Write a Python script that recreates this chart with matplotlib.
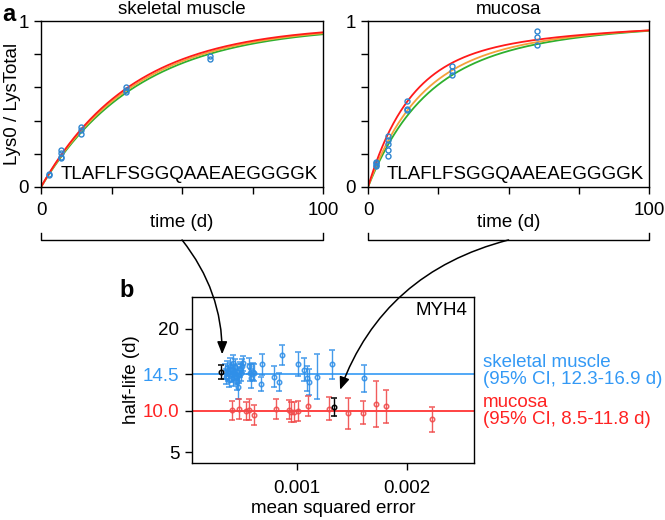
import numpy as np
import matplotlib
matplotlib.use('Agg')
import matplotlib.pyplot as plt
from matplotlib.patches import ConnectionPatch

plt.rcParams['font.family'] = ['Liberation Sans', 'DejaVu Sans']
plt.rcParams['font.size'] = 13.5

# ---- panel a: labelled fraction over time ----
peptide = 'TLAFLFSGGQAAEAEGGGGK'
tissues = ['skeletal muscle', 'mucosa']

muscle_t = [3, 3, 7, 7, 7, 7, 14, 14, 14, 30, 30, 30, 60, 60]
muscle_frac = [0.07, 0.08, 0.222, 0.202, 0.176, 0.182, 0.36, 0.342, 0.322,
               0.602, 0.586, 0.57, 0.792, 0.774]

mucosa_t = [3, 3, 3, 3, 7, 7, 7, 7, 7, 14, 14, 14, 30, 30, 30, 60, 60, 60]
mucosa_frac = [0.152, 0.142, 0.126, 0.135, 0.306, 0.286, 0.262, 0.222, 0.186,
               0.52, 0.47, 0.466, 0.726, 0.696, 0.672, 0.942, 0.906, 0.854]

# fitted curves: fraction of fast pool, fast rate, slow rate (per day)
fit_colors = ['#2eb02e', '#f5a03a', '#ff1a1a']
muscle_fast = [0.974, 0.975, 0.976]
muscle_k1 = [0.029, 0.030, 0.031]
muscle_k2 = [0.0, 0.0, 0.0]
mucosa_fast = [0.66, 0.70, 0.75]
mucosa_k1 = [0.055, 0.060, 0.070]
mucosa_k2 = [0.018, 0.017, 0.015]

# ---- panel b: half-life vs mean squared error ----
muscle_mse = [0.000352, 0.000361, 0.000367, 0.000382, 0.000391, 0.000397, 0.000406,
              0.000412, 0.000421, 0.000427, 0.000436, 0.000442, 0.000451, 0.000458,
              0.000463, 0.000472, 0.000481, 0.000487, 0.000496, 0.000508, 0.000512,
              0.000571, 0.000578, 0.000584, 0.000608, 0.000617, 0.000674, 0.000686,
              0.000792, 0.000837, 0.000870, 0.001015, 0.001069, 0.001096, 0.001111,
              0.001181, 0.001319, 0.001608]
muscle_hl = [14.78, 14.18, 15.19, 14.58, 13.77, 15.47, 14.99, 14.38, 13.97, 15.8,
             14.66, 15.31, 14.18, 13.57, 14.78, 12.96, 14.38, 15.07, 14.66, 15.47,
             15.8, 15.47, 14.66, 13.97, 14.78, 14.66, 13.28, 15.68, 14.18, 13.49,
             16.81, 15.68, 14.99, 13.97, 13.57, 14.18, 15.68, 13.97]
muscle_err = [0.9, 0.9, 0.9, 0.9, 0.8, 1.0, 0.9, 0.9, 0.9, 1.0, 0.9, 1.0, 0.9, 1.0,
              0.9, 1.5, 1.0, 0.9, 1.0, 0.9, 0.9, 1.0, 1.0, 1.2, 1.0, 1.0, 0.9, 1.3,
              1.25, 1.1, 1.2, 1.45, 1.4, 1.5, 1.6, 2.7, 1.8, 1.6]

mucosa_mse = [0.000418, 0.000481, 0.000539, 0.000566, 0.000611, 0.00081, 0.00093,
              0.000948, 0.000976, 0.00101, 0.0011, 0.00129, 0.00146, 0.0016,
              0.00172, 0.00181, 0.002226]
mucosa_hl = [10.08, 10.28, 10.0, 10.15, 9.5, 10.2, 10.15, 9.9, 9.9, 10.0, 10.65,
             10.3, 9.7, 9.8, 10.8, 10.55, 9.0]
mucosa_err = [1.18, 1.2, 1.1, 1.28, 1.18, 1.2, 1.18, 1.2, 1.2, 1.18, 1.2, 1.4,
              1.87, 1.4, 2.8, 1.97, 1.52]

# highlighted peptide (the one shown in panel a)
sel_mse = [0.000318, 0.00134]
sel_hl = [14.7, 10.5]
sel_err = [0.85, 1.1]

median_hl = [14.5, 10.0]
ci_text = ['(95% CI, 12.3-16.9 d)', '(95% CI, 8.5-11.8 d)']

blue = '#3399f5'
red = '#ff2222'
blue_pt = '#2f8fe8'
red_pt = '#f04a4a'
pt_color = '#2f86d0'

fig = plt.figure(figsize=(6.65, 5.2), dpi=100)
ax1 = fig.add_axes([0.0617, 0.6404, 0.4241, 0.3192])
ax2 = fig.add_axes([0.5534, 0.6404, 0.4226, 0.3192])
ax3 = fig.add_axes([0.2887, 0.1096, 0.4241, 0.3192])

t_curve = np.linspace(0, 100, 300)
panels = [(ax1, muscle_t, muscle_frac, muscle_fast, muscle_k1, muscle_k2),
          (ax2, mucosa_t, mucosa_frac, mucosa_fast, mucosa_k1, mucosa_k2)]
for i, (ax, t, fr, fa, k1, k2) in enumerate(panels):
    for a, ka, kb, c in zip(fa, k1, k2, fit_colors):
        y = 1 - a * np.exp(-ka * t_curve) - (1 - a) * np.exp(-kb * t_curve)
        ax.plot(t_curve, y, color=c, lw=1.3)
    ax.plot(t, fr, 'o', ms=3.6, mfc='none', mec=pt_color, mew=1.0)
    ax.set_xlim(0, 100)
    ax.set_ylim(0, 1)
    ax.set_xticks([0, 25, 50, 75, 100])
    ax.set_xticklabels(['0', '', '', '', '100'])
    ax.set_yticks([0, 0.2, 0.4, 0.6, 0.8, 1.0])
    ax.set_yticklabels(['0', '', '', '', '', '1'])
    ax.tick_params(direction='out', length=5, width=1)
    ax.tick_params(axis='x', pad=6)
    ax.tick_params(axis='y', pad=4)
    for s in ax.spines.values():
        s.set_linewidth(1)
    ax.set_title(tissues[i], fontsize=13.5, pad=5)
    ax.set_xlabel('time (d)', labelpad=0)
    ax.xaxis.set_label_coords(0.5, -0.16)
    ax.text(0.98, 0.025, peptide, transform=ax.transAxes, ha='right',
            va='bottom', fontsize=13.5)
    # bracket under the axis
    ax.plot([0, 0, 1, 1], [-0.277, -0.319, -0.319, -0.277], color='k', lw=1,
            transform=ax.transAxes, clip_on=False)

ax1.set_ylabel('Lys0 / LysTotal')
ax1.yaxis.set_label_coords(-0.072, 0.5)

# panel b
ax3.axhline(median_hl[0], color=blue, lw=1.2, zorder=1)
ax3.axhline(median_hl[1], color=red, lw=1.2, zorder=1)
ax3.errorbar(muscle_mse, muscle_hl, yerr=muscle_err, fmt='o', ms=3.2, mfc='none',
             mec=blue_pt, mew=1.1, ecolor=blue_pt, elinewidth=1, capsize=2,
             capthick=1, alpha=0.9, zorder=3)
ax3.errorbar(mucosa_mse, mucosa_hl, yerr=mucosa_err, fmt='o', ms=3.2, mfc='none',
             mec=red_pt, mew=1.1, ecolor=red_pt, elinewidth=1, capsize=2,
             capthick=1, alpha=0.9, zorder=3)
ax3.errorbar(sel_mse, sel_hl, yerr=sel_err, fmt='o', ms=3.2, mfc='none',
             mec='k', mew=1.1, ecolor='k', elinewidth=1, capsize=2,
             capthick=1, zorder=4)
ax3.set_xlim(0.0000533, 0.002603)
ax3.set_ylim(3.67, 23.87)
ax3.set_xticks([0.001, 0.002])
ax3.set_xticklabels(['0.001', '0.002'])
ax3.set_yticks([5, 10.0, 14.5, 20])
ax3.set_yticklabels(['5', '10.0', '14.5', '20'])
ax3.tick_params(direction='out', length=5, width=1)
ax3.tick_params(axis='x', pad=7)
ax3.tick_params(axis='y', pad=4)
ytl = ax3.get_yticklabels()
ticks = ax3.yaxis.get_major_ticks()
for idx, c in [(1, red), (2, blue)]:
    ytl[idx].set_color(c)
    ticks[idx].tick1line.set_color(c)
for s in ax3.spines.values():
    s.set_linewidth(1)
ax3.set_xlabel('mean squared error')
ax3.xaxis.set_label_coords(0.5, -0.22)
ax3.set_ylabel('half-life (d)')
ax3.yaxis.set_label_coords(-0.185, 0.5)
ax3.text(0.975, 0.97, 'MYH4', transform=ax3.transAxes, ha='right', va='top')
ax3.text(1.032, 0.554, tissues[0] + '\n' + ci_text[0], transform=ax3.transAxes,
         ha='left', va='center', color=blue, linespacing=0.98)
ax3.text(1.032, 0.313, tissues[1] + '\n' + ci_text[1], transform=ax3.transAxes,
         ha='left', va='center', color=red, linespacing=0.98)

# arrows from the brackets to the highlighted peptide
for ax, i, rad in [(ax1, 0, -0.2), (ax2, 1, 0.28)]:
    con = ConnectionPatch(xyA=(0.5, -0.319), coordsA='axes fraction', axesA=ax,
                          xyB=(sel_mse[i], sel_hl[i]), coordsB='data', axesB=ax3,
                          arrowstyle='-|>,head_length=0.75,head_width=0.3',
                          mutation_scale=10, connectionstyle='arc3,rad=%s' % rad,
                          shrinkA=0, shrinkB=13, lw=1.1, color='k', zorder=10)
    fig.add_artist(con)

fig.text(0.004, 0.995, 'a', fontsize=17, fontweight='bold', va='top', ha='left')
fig.text(0.191, 0.442, 'b', fontsize=17, fontweight='bold', va='center', ha='center')

fig.savefig('out.png', dpi=100)
